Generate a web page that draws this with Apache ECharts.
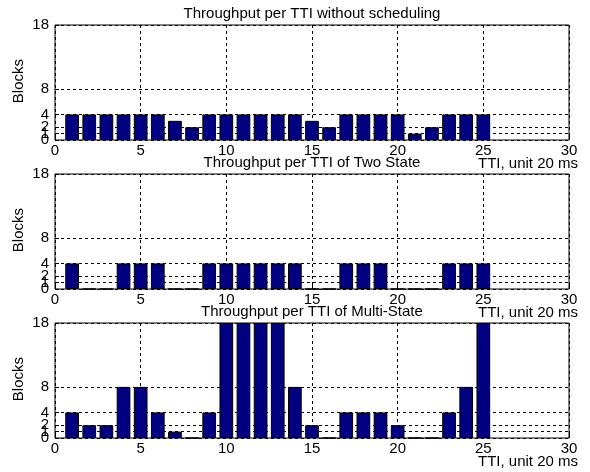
<!DOCTYPE html>
<html><head><meta charset="utf-8">
<script src="https://cdn.jsdelivr.net/npm/echarts@6/dist/echarts.min.js"></script>
<style>html,body{margin:0;padding:0;background:#fff}#c{width:590px;height:472px}</style>
</head><body><div id="c"></div>
<script>
const tti = [1,2,3,4,5,6,7,8,9,10,11,12,13,14,15,16,17,18,19,20,21,22,23,24,25];
const noSched = [4,4,4,4,4,4,3,2,4,4,4,4,4,4,3,2,4,4,4,4,1,2,4,4,4];
const twoState = [4,0,0,4,4,4,0,0,4,4,4,4,4,4,0,0,4,4,4,0,0,0,4,4,4];
const multiState = [4,2,2,8,8,4,1,0,4,18,18,18,18,8,2,0,4,4,4,2,0,0,4,8,18];
const titles = ['Throughput per TTI without scheduling','Throughput per TTI of Two State','Throughput per TTI of Multi-State'];
// y tick labels, split into groups so that close labels are all drawn
const yTickGroups = [[0,4,18],[1,8],[2]];
const xLabel = 'TTI, unit 20 ms';
const yLabel = 'Blocks';
const seriesData = [noSched, twoState, multiState];

const font = '"Liberation Sans", Arial, sans-serif';
const L = 55, W = 514, H = 115;
const tops = [25, 174, 323];
const grids = [], xAxes = [], yAxes = [], series = [];
tops.forEach((t, i) => {
  grids.push({left: L, width: W, top: t, height: H, show: true, borderColor: '#000', borderWidth: 1, backgroundColor: '#fff', containLabel: false});
  xAxes.push({type: 'value', gridIndex: i, min: 0, max: 30, interval: 5,
    axisLine: {show: false}, axisTick: {show: true, inside: true, length: 4, lineStyle: {color: '#000'}},
    axisLabel: {color: '#000', fontSize: 15, fontFamily: font, margin: 3, showMinLabel: true, showMaxLabel: true},
    splitLine: {show: true, lineStyle: {color: '#000', type: [3, 3], width: 1}}});
  const base = yAxes.length;
  yTickGroups.forEach((vals) => {
    yAxes.push({type: 'value', gridIndex: i, min: 0, max: 18, position: 'left',
      axisLine: {show: false},
      axisTick: {show: true, inside: true, length: 4, customValues: vals, lineStyle: {color: '#000'}},
      axisLabel: {color: '#000', fontSize: 15, fontFamily: font, margin: 6, customValues: vals,
        showMinLabel: true, showMaxLabel: true, hideOverlap: false},
      splitLine: {show: true, lineStyle: {color: '#000', type: [3, 3], width: 1}}});
  });
  series.push({type: 'bar', xAxisIndex: i, yAxisIndex: base, barWidth: '80%',
    data: tti.map((x, k) => [x, seriesData[i][k]]),
    itemStyle: {color: '#000080', borderColor: '#000', borderWidth: 1}, silent: true, animation: false});
});
const chart = echarts.init(document.getElementById('c'), null, {renderer: 'canvas'});
chart.setOption({
  backgroundColor: '#fff',
  animation: false,
  title: titles.map((s, i) => ({text: s, left: L + W / 2, top: tops[i] - 19, textAlign: 'center', padding: 0,
    textStyle: {fontSize: 15, fontWeight: 'normal', color: '#000', fontFamily: font}})),
  grid: grids, xAxis: xAxes, yAxis: yAxes, series: series,
  graphic: tops.map((t, i) => ({type: 'text', left: 11, top: t + 34, rotation: Math.PI / 2,
    style: {text: yLabel, fontSize: 15, fill: '#000', fontFamily: font}}))
    .concat(tops.map((t, i) => ({type: 'text', right: 12, top: t + H + 16,
    style: {text: xLabel, fontSize: 15, fill: '#000', fontFamily: font}})))
});
</script></body></html>
